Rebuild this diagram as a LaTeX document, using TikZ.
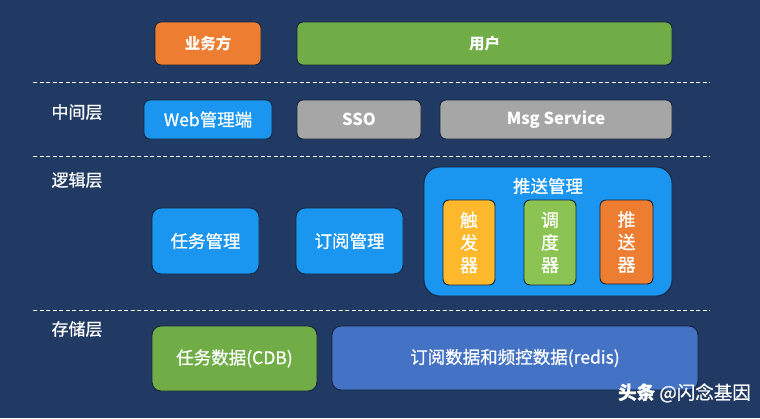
\documentclass[tikz,border=0pt]{standalone}
\usepackage{fontspec}
\setmainfont{Noto Sans CJK SC}
\newfontfamily\medfont{Noto Sans CJK SC}[FakeBold=0.7]
\usepackage{xcolor}
\definecolor{bgnavy}{HTML}{213A63}
\definecolor{bizorange}{HTML}{ED7D31}
\definecolor{usergreen}{HTML}{70AD47}
\definecolor{webblue}{HTML}{1A96F0}
\definecolor{svcgray}{HTML}{A6A6A6}
\definecolor{trigyellow}{HTML}{FDB92B}
\definecolor{schedgreen}{HTML}{8CC453}
\definecolor{redisblue}{HTML}{4472C4}
\definecolor{edgedark}{HTML}{15233A}

\tikzset{
  box/.style={draw=edgedark, line width=0.9pt, rounded corners=6pt, text=white,
              inner sep=0pt, font=\medfont\fontsize{17.5}{21}\selectfont},
  boldbox/.style={box, font=\fontsize{15.5}{18}\selectfont\bfseries},
  tallbox/.style={box, align=center, font=\medfont\fontsize{18}{22.5}\selectfont},
  layerlabel/.style={text=white, font=\medfont\fontsize{17}{20}\selectfont},
  layerline/.style={white, line width=0.7pt, dash pattern=on 4pt off 2.5pt},
}

\begin{document}
\begin{tikzpicture}[x=1pt, y=-1pt]
    % Background
    \useasboundingbox (0,0) rectangle (760,418);
    \fill[bgnavy] (0,0) rectangle (760,418);

    % Top row
    \node[boldbox, fill=bizorange, minimum width=106pt, minimum height=43pt] (biz) at (208,43.5) {业务方};
    \node[boldbox, fill=usergreen, minimum width=375pt, minimum height=43pt] (user) at (484.5,43.5) {用户};

    \draw[layerline] (33,82) -- (710,82);

    % Middle layer
    \node[layerlabel] (midlabel) at (77,112) {中间层};
    \node[box, fill=webblue, minimum width=128pt, minimum height=39pt] (web) at (208,119.5) {Web管理端};
    \node[boldbox, fill=svcgray, minimum width=124pt, minimum height=39pt, font=\fontsize{16.5}{19}\selectfont\bfseries] (sso) at (359,119.5) {SSO};
    \node[boldbox, fill=svcgray, minimum width=232pt, minimum height=39pt, font=\fontsize{16.5}{19}\selectfont\bfseries] (msg) at (556,119.5) {Msg Service};

    \draw[layerline] (33,156) -- (710,156);

    % Logic layer
    \node[layerlabel] (logiclabel) at (77,180) {逻辑层};
    \node[box, fill=webblue, minimum width=107pt, minimum height=66pt, rounded corners=9pt] (task) at (205.5,241) {任务管理};
    \node[box, fill=webblue, minimum width=107pt, minimum height=66pt, rounded corners=9pt] (sub) at (349.5,241) {订阅管理};
    \node[box, fill=webblue, minimum width=248pt, minimum height=129pt, rounded corners=16pt] (push) at (548,231.5) {};
    \node[text=white, font=\medfont\fontsize{17.5}{21}\selectfont] (pushtitle) at (548,186) {推送管理};
    \node[tallbox, fill=trigyellow, minimum width=52pt, minimum height=85pt] (trig) at (469,242.5) {触\\发\\器};
    \node[tallbox, fill=schedgreen, minimum width=52pt, minimum height=85pt] (sched) at (550,242.5) {调\\度\\器};
    \node[tallbox, fill=bizorange, minimum width=53pt, minimum height=84pt] (sender) at (626.5,242) {推\\送\\器};

    \draw[layerline] (33,310) -- (710,310);

    % Storage layer
    \node[layerlabel] (storelabel) at (77,329) {存储层};
    \node[box, fill=usergreen, minimum width=165pt, minimum height=65pt, rounded corners=9pt] (cdb) at (234.5,358.5) {任务数据(CDB)};
    \node[box, fill=redisblue, minimum width=366pt, minimum height=64pt, rounded corners=9pt] (redis) at (515,358) {订阅数据和频控数据(redis)};

    % Watermark
    \node[text=white, anchor=east, inner sep=0pt, font=\medfont\fontsize{18.5}{22}\selectfont] (mark) at (751,393) {{\bfseries 头条} @闪念基因};
\end{tikzpicture}
\end{document}
